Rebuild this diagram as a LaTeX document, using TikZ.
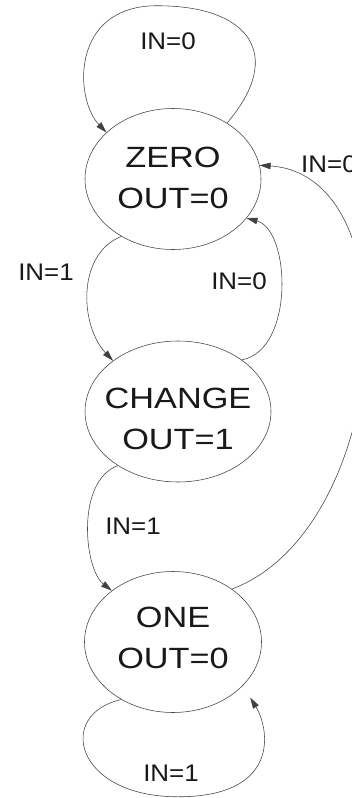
\documentclass[tikz,border=0pt]{standalone}
\usepackage{fontspec}
\setmainfont{Liberation Sans}
\usetikzlibrary{arrows.meta,shapes.geometric}
\newcommand{\statelabel}[3]{\makebox[0pt]{\raisebox{#3}[0pt][0pt]{\scalebox{1.17}[1]{\fontsize{29.3}{41}\selectfont\begin{tabular}[t]{@{}c@{}}#1\\#2\end{tabular}}}}}
\newcommand{\edgelabel}[1]{\scalebox{1.08}[1]{#1}}
\begin{document}
\begin{tikzpicture}[x=1pt,y=-1pt,
  state/.style={ellipse, draw=black!75, line width=0.55pt, inner sep=0pt, minimum height=141pt, text=black!90},
  trans/.style={draw=black!75, line width=0.55pt, -{Triangle[length=11pt,width=6.5pt]}},
  lbl/.style={inner sep=0pt, font=\fontsize{24}{28}\selectfont, text=black!90}]
\useasboundingbox (0,0) rectangle (352,798);
\clip (0,0) rectangle (352,798);
\fill[white] (0,0) rectangle (352,798);

\node[state, minimum width=176pt] (zero) at (173,179) {\statelabel{ZERO}{OUT=0}{12pt}};
\node[state, minimum width=186pt] (change) at (178,411.5) {\statelabel{CHANGE}{OUT=1}{3.5pt}};
\node[state, minimum width=177pt] (one) at (173,642) {\statelabel{ONE}{OUT=0}{15pt}};

% ZERO self loop
\draw[trans] (zero.46) .. controls +(58,-68) and +(93,0) .. ([shift={(-16,-102.5)}]zero.north)
  .. controls +(-87,0) and +(-32,-33) .. (zero.145);
% ZERO -> CHANGE
\draw[trans] (zero.228) .. controls +(-45,18) and +(-33,-35) .. (change.142);
% CHANGE -> ZERO
\draw[trans] (change.39) .. controls +(53,-10) and +(44,12) .. (zero.332);
% CHANGE -> ONE
\draw[trans] (change.222) .. controls +(-42,15) and +(-28,-22) .. (one.140);
% ONE -> ZERO
\draw[trans] (one.42) .. controls +(159,-59) and +(156,10) .. (zero.9);
% ONE self loop
\draw[trans, shorten >=14pt] (one.228) .. controls +(-66,15) and +(-103,0) .. ([shift={(5,84)}]one.south)
  .. controls +(102,0) and +(27,44) .. (one.328);

\node[lbl] (l1) at (168,41) {\edgelabel{IN=0}};
\node[lbl, anchor=west] (l2) at (301,164.5) {\edgelabel{IN=0}};
\node[lbl] (l3) at (46,272) {\edgelabel{IN=1}};
\node[lbl] (l4) at (239,281) {\edgelabel{IN=0}};
\node[lbl] (l5) at (133,526) {\edgelabel{IN=1}};
\node[lbl] (l6) at (171,773) {\edgelabel{IN=1}};
\end{tikzpicture}
\end{document}
